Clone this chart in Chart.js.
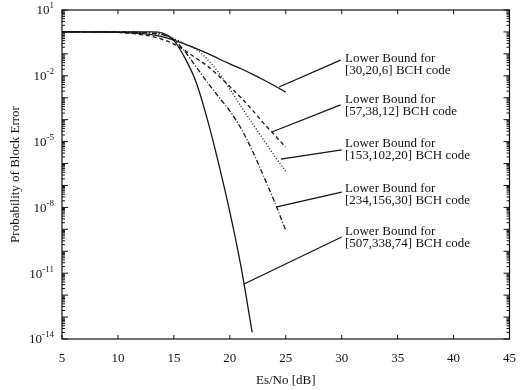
<!DOCTYPE html>
<html>
<head>
<meta charset="utf-8">
<script src="https://cdn.jsdelivr.net/npm/chart.js@4.4.1/dist/chart.umd.min.js"></script>
<style>
html, body { margin: 0; padding: 0; background: #fff; }
#wrap { width: 520px; height: 390px; }
</style>
</head>
<body>
<div id="wrap"><canvas id="grafico" width="520" height="390"></canvas></div>
<script>
// Es/No [dB]
var esno      = [5,6,7,8,9,10,11,12,13,14,15,16,17,18,19,20,21,22,23,24,25];
var esnoSteep = [5,6,7,8,9,10,11,12,13,14,15,16,17,18,19,20,21,22];

// probabilita' di errore di blocco
var bch30  = [1,1,1,0.98,0.98,0.95,0.91,0.85,0.76,0.6,0.42,0.275,0.174,0.105,0.06,0.035,0.021,0.012,6.6e-3,3.5e-3,1.8e-3];
var bch57  = [1,1,1,1,1,0.95,0.89,0.76,0.63,0.45,0.28,0.14,0.063,0.028,0.01,3.2e-3,1e-3,2.8e-4,7.1e-5,2e-5,5.6e-6];
var bch153 = [1,1,1,1,1,1,0.98,0.93,0.87,0.72,0.5,0.28,0.16,0.056,0.014,2.5e-3,4e-4,7.1e-5,1.26e-5,2.2e-6,4.5e-7];
var bch234 = [1,1,1,1,1,1,1,0.95,0.89,0.76,0.45,0.126,0.025,5e-3,1.1e-3,2.5e-4,4e-5,4e-6,2.8e-7,1.8e-8,8.9e-10];
var bch507 = [1,1,1,1,1,1,1,1,1,0.89,0.4,0.063,5e-3,1e-4,1e-6,6.3e-9,2e-11,2e-14];

var xTicks = [5,10,15,20,25,30,35,40,45];
var yExp   = [1,-2,-5,-8,-11,-14];

var codici = ["[30,20,6] BCH code", "[57,38,12] BCH code", "[153,102,20] BCH code",
              "[234,156,30] BCH code", "[507,338,74] BCH code"];

// posizioni delle etichette (unita' dati): testo, inizio e fine della freccia
var posTesto  = [[30.3,0.059],[30.3,7.9e-4],[30.3,7.8e-6],[30.3,7.6e-8],[30.3,7.6e-10]];
var frecciaDa = [[29.9,0.052],[29.9,4.7e-4],[30.0,4.2e-6],[30.0,5e-8],[30.0,4.5e-10]];
var frecciaA  = [[24.4,3.1e-3],[23.76,2.75e-5],[24.56,1.6e-6],[24.2,1.05e-8],[21.27,3.2e-12]];

var FONT = "'Liberation Serif', 'Times New Roman', serif";

function punti(xs, ys){
    return xs.map(function(x, i){ return {x: x, y: ys[i]}; });
}

function serie(dati, dash){
    return {
        data: dati,
        borderColor: '#151515',
        borderWidth: 1.3,
        borderDash: dash,
        pointRadius: 0,
        fill: false,
        cubicInterpolationMode: 'monotone'
    };
}

var cornice = {
    id: 'cornice',
    afterDraw: function(chart){
        var ctx = chart.ctx;
        var a = chart.chartArea;
        var sx = chart.scales.x, sy = chart.scales.y;
        ctx.save();
        ctx.strokeStyle = '#111';
        ctx.lineWidth = 1.2;
        ctx.strokeRect(a.left, a.top, a.right - a.left, a.bottom - a.top);
        ctx.lineWidth = 1;
        ctx.beginPath();
        xTicks.forEach(function(v){
            var px = sx.getPixelForValue(v);
            ctx.moveTo(px, a.bottom); ctx.lineTo(px, a.bottom - 4);
            ctx.moveTo(px, a.top); ctx.lineTo(px, a.top + 4);
        });
        for (var e = -14; e <= 1; e++){
            for (var m = 1; m <= 9; m++){
                var v = m * Math.pow(10, e);
                if (v > 10 || v < 1e-14) continue;
                var py = sy.getPixelForValue(v);
                var l = (m == 1) ? 6 : 3;
                ctx.moveTo(a.left, py); ctx.lineTo(a.left + l, py);
                ctx.moveTo(a.right, py); ctx.lineTo(a.right - l, py);
            }
        }
        ctx.stroke();

        // etichette asse y con esponente
        ctx.fillStyle = '#111';
        ctx.textBaseline = 'middle';
        yExp.forEach(function(e){
            var py = sy.getPixelForValue(Math.pow(10, e));
            var esp = String(e);
            ctx.font = '13px ' + FONT;
            var w1 = ctx.measureText('10').width;
            ctx.font = '9px ' + FONT;
            var w2 = ctx.measureText(esp).width;
            var x0 = a.left - 8 - w1 - w2;
            ctx.font = '13px ' + FONT;
            ctx.textAlign = 'left';
            ctx.fillText('10', x0, py + 1);
            ctx.font = '9px ' + FONT;
            ctx.fillText(esp, x0 + w1, py - 4);
        });

        // frecce e testi
        ctx.lineWidth = 1.2;
        ctx.font = '13px ' + FONT;
        for (var i = 0; i < codici.length; i++){
            ctx.beginPath();
            ctx.moveTo(sx.getPixelForValue(frecciaDa[i][0]), sy.getPixelForValue(frecciaDa[i][1]));
            ctx.lineTo(sx.getPixelForValue(frecciaA[i][0]), sy.getPixelForValue(frecciaA[i][1]));
            ctx.stroke();
            var tx = sx.getPixelForValue(posTesto[i][0]);
            var ty = sy.getPixelForValue(posTesto[i][1]);
            ctx.fillText('Lower Bound for', tx, ty);
            ctx.fillText(codici[i], tx, ty + 12);
        }
        ctx.restore();
    }
};

var grafico = new Chart(document.getElementById('grafico'), {
    type: 'line',
    data: {
        datasets: [
            serie(punti(esno, bch30), []),
            serie(punti(esno, bch57), [4, 3]),
            serie(punti(esno, bch153), [1, 2]),
            serie(punti(esno, bch234), [5, 2, 1, 2]),
            serie(punti(esnoSteep, bch507), [])
        ]
    },
    options: {
        responsive: false,
        animation: false,
        layout: { padding: { top: 10, right: 8, left: 0, bottom: 0 } },
        plugins: { legend: { display: false }, tooltip: { enabled: false } },
        scales: {
            x: {
                type: 'linear',
                min: 5, max: 45,
                grid: { display: false },
                border: { display: false },
                afterFit: function(s){ s.height = 51; },
                ticks: {
                    stepSize: 5,
                    color: '#111',
                    padding: 4,
                    maxRotation: 0,
                    font: { family: FONT, size: 13 }
                },
                title: {
                    display: true,
                    text: 'Es/No [dB]',
                    color: '#111',
                    padding: { top: 0, bottom: 2 },
                    font: { family: FONT, size: 13 }
                }
            },
            y: {
                type: 'logarithmic',
                min: 1e-14, max: 10,
                grid: { display: false },
                border: { display: false },
                afterFit: function(s){ s.width = 62; },
                ticks: { display: false },
                title: {
                    display: true,
                    text: 'Probability of Block Error',
                    color: '#111',
                    padding: { top: 8, bottom: 0 },
                    font: { family: FONT, size: 13 }
                }
            }
        }
    },
    plugins: [cornice]
});
</script>
</body>
</html>
